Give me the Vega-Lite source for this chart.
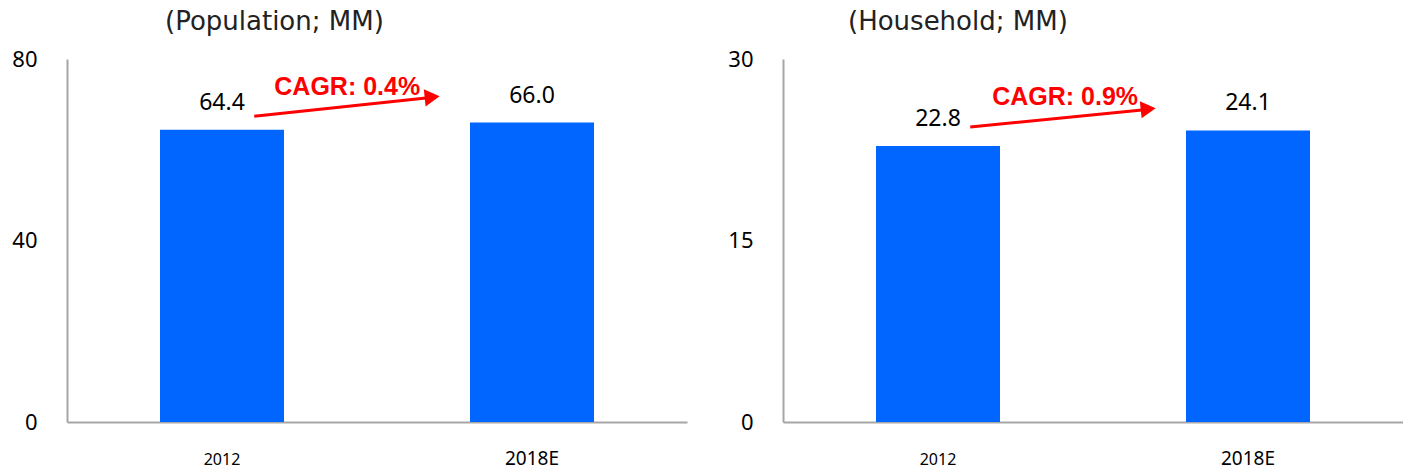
{
  "$schema": "https://vega.github.io/schema/vega-lite/v6.json",
  "padding": {"left": 11, "top": 9, "right": 0, "bottom": 0},
  "config": {"view": {"stroke": null}, "font": "Noto Sans"},
  "datasets": {
    "bars": [
      {"panel": "Population", "year": "2012", "value": 64.4},
      {"panel": "Population", "year": "2018E", "value": 66.0},
      {"panel": "Household", "year": "2012", "value": 22.8},
      {"panel": "Household", "year": "2018E", "value": 24.1}
    ],
    "arrows": [
      {"panel": "Population", "x1": 0.302, "y1": 67.4, "x2": 0.579, "y2": 71.4, "hx": 0.589, "hy": 71.6, "tx": 0.452, "ty": 73.8, "text": "CAGR: 0.4%"},
      {"panel": "Household", "x1": 0.302, "y1": 24.38, "x2": 0.579, "y2": 25.79, "hx": 0.589, "hy": 25.87, "tx": 0.455, "ty": 26.86, "text": "CAGR: 0.9%"}
    ]
  },
  "spacing": 40,
  "hconcat": [
    {
      "width": 620,
      "height": 363,
      "title": {"text": "(Population; MM)", "anchor": "start", "frame": "group", "dx": 98, "fontSize": 26, "font": "DejaVu Sans", "fontWeight": "normal", "color": "#222222", "offset": 13},
      "layer": [
        {
          "data": {"name": "bars"},
          "transform": [{"filter": "datum.panel == 'Population'"}],
          "encoding": {
            "x": {"field": "year", "type": "nominal", "scale": {"paddingInner": 0.6, "paddingOuter": 0.3},
              "axis": {"title": null, "labelAngle": 0, "ticks": false, "domainColor": "#a6a6a6", "domainWidth": 2, "labelColor": "#000000", "labelPadding": 42, "labelBaseline": "alphabetic",
                "labelFontSize": {"condition": {"test": "datum.value == '2012'", "value": 16}, "value": 19}}},
            "y": {"field": "value", "type": "quantitative", "scale": {"domain": [0, 80]},
              "axis": {"title": null, "ticks": false, "grid": false, "values": [0, 40, 80], "domainColor": "#a6a6a6", "domainWidth": 2, "labelFontSize": 22, "labelColor": "#000000", "labelPadding": 30}}
          },
          "layer": [
            {"mark": {"type": "bar", "color": "#0066FF"}},
            {"mark": {"type": "text", "baseline": "middle", "dy": -27, "fontSize": 23, "color": "#000000"}, "encoding": {"text": {"field": "value", "format": ".1f"}}}
          ]
        },
        {
          "data": {"name": "arrows"},
          "transform": [{"filter": "datum.panel == 'Population'"}],
          "layer": [
            {"mark": {"type": "rule", "color": "#FF0000", "strokeWidth": 3},
              "encoding": {"x": {"field": "x1", "type": "quantitative", "scale": {"domain": [0, 1]}, "axis": null}, "x2": {"field": "x2"},
                "y": {"field": "y1", "type": "quantitative", "axis": {"title": null, "ticks": false, "grid": false, "values": [0, 40, 80], "domainColor": "#a6a6a6", "domainWidth": 2, "labelFontSize": 22, "labelColor": "#000000", "labelPadding": 30}}, "y2": {"field": "y2"}}},
            {"mark": {"type": "point", "shape": "triangle-right", "filled": true, "color": "#FF0000", "opacity": 1, "size": 300, "angle": -6},
              "encoding": {"x": {"field": "hx", "type": "quantitative"}, "y": {"field": "hy", "type": "quantitative", "axis": {"title": null, "ticks": false, "grid": false, "values": [0, 40, 80], "domainColor": "#a6a6a6", "domainWidth": 2, "labelFontSize": 22, "labelColor": "#000000", "labelPadding": 30}}}},
            {"mark": {"type": "text", "color": "#FF0000", "fontWeight": "bold", "fontSize": 25, "font": "Liberation Sans", "baseline": "middle"},
              "encoding": {"x": {"field": "tx", "type": "quantitative"}, "y": {"field": "ty", "type": "quantitative", "axis": {"title": null, "ticks": false, "grid": false, "values": [0, 40, 80], "domainColor": "#a6a6a6", "domainWidth": 2, "labelFontSize": 22, "labelColor": "#000000", "labelPadding": 30}}, "text": {"field": "text"}}}
          ]
        }
      ],
      "resolve": {"scale": {"x": "independent"}}
    },
    {
      "width": 620,
      "height": 363,
      "title": {"text": "(Household; MM)", "anchor": "start", "frame": "group", "dx": 65, "fontSize": 26, "font": "DejaVu Sans", "fontWeight": "normal", "color": "#222222", "offset": 13},
      "layer": [
        {
          "data": {"name": "bars"},
          "transform": [{"filter": "datum.panel == 'Household'"}],
          "encoding": {
            "x": {"field": "year", "type": "nominal", "scale": {"paddingInner": 0.6, "paddingOuter": 0.3},
              "axis": {"title": null, "labelAngle": 0, "ticks": false, "domainColor": "#a6a6a6", "domainWidth": 2, "labelColor": "#000000", "labelPadding": 42, "labelBaseline": "alphabetic",
                "labelFontSize": {"condition": {"test": "datum.value == '2012'", "value": 16}, "value": 19}}},
            "y": {"field": "value", "type": "quantitative", "scale": {"domain": [0, 30]},
              "axis": {"title": null, "ticks": false, "grid": false, "values": [0, 15, 30], "domainColor": "#a6a6a6", "domainWidth": 2, "labelFontSize": 22, "labelColor": "#000000", "labelPadding": 30}}
          },
          "layer": [
            {"mark": {"type": "bar", "color": "#0066FF"}},
            {"mark": {"type": "text", "baseline": "middle", "dy": -27, "fontSize": 23, "color": "#000000"}, "encoding": {"text": {"field": "value", "format": ".1f"}}}
          ]
        },
        {
          "data": {"name": "arrows"},
          "transform": [{"filter": "datum.panel == 'Household'"}],
          "layer": [
            {"mark": {"type": "rule", "color": "#FF0000", "strokeWidth": 3},
              "encoding": {"x": {"field": "x1", "type": "quantitative", "scale": {"domain": [0, 1]}, "axis": null}, "x2": {"field": "x2"},
                "y": {"field": "y1", "type": "quantitative", "axis": {"title": null, "ticks": false, "grid": false, "values": [0, 15, 30], "domainColor": "#a6a6a6", "domainWidth": 2, "labelFontSize": 22, "labelColor": "#000000", "labelPadding": 30}}, "y2": {"field": "y2"}}},
            {"mark": {"type": "point", "shape": "triangle-right", "filled": true, "color": "#FF0000", "opacity": 1, "size": 300, "angle": -6},
              "encoding": {"x": {"field": "hx", "type": "quantitative"}, "y": {"field": "hy", "type": "quantitative", "axis": {"title": null, "ticks": false, "grid": false, "values": [0, 15, 30], "domainColor": "#a6a6a6", "domainWidth": 2, "labelFontSize": 22, "labelColor": "#000000", "labelPadding": 30}}}},
            {"mark": {"type": "text", "color": "#FF0000", "fontWeight": "bold", "fontSize": 25, "font": "Liberation Sans", "baseline": "middle"},
              "encoding": {"x": {"field": "tx", "type": "quantitative"}, "y": {"field": "ty", "type": "quantitative", "axis": {"title": null, "ticks": false, "grid": false, "values": [0, 15, 30], "domainColor": "#a6a6a6", "domainWidth": 2, "labelFontSize": 22, "labelColor": "#000000", "labelPadding": 30}}, "text": {"field": "text"}}}
          ]
        }
      ],
      "resolve": {"scale": {"x": "independent"}}
    }
  ]
}
